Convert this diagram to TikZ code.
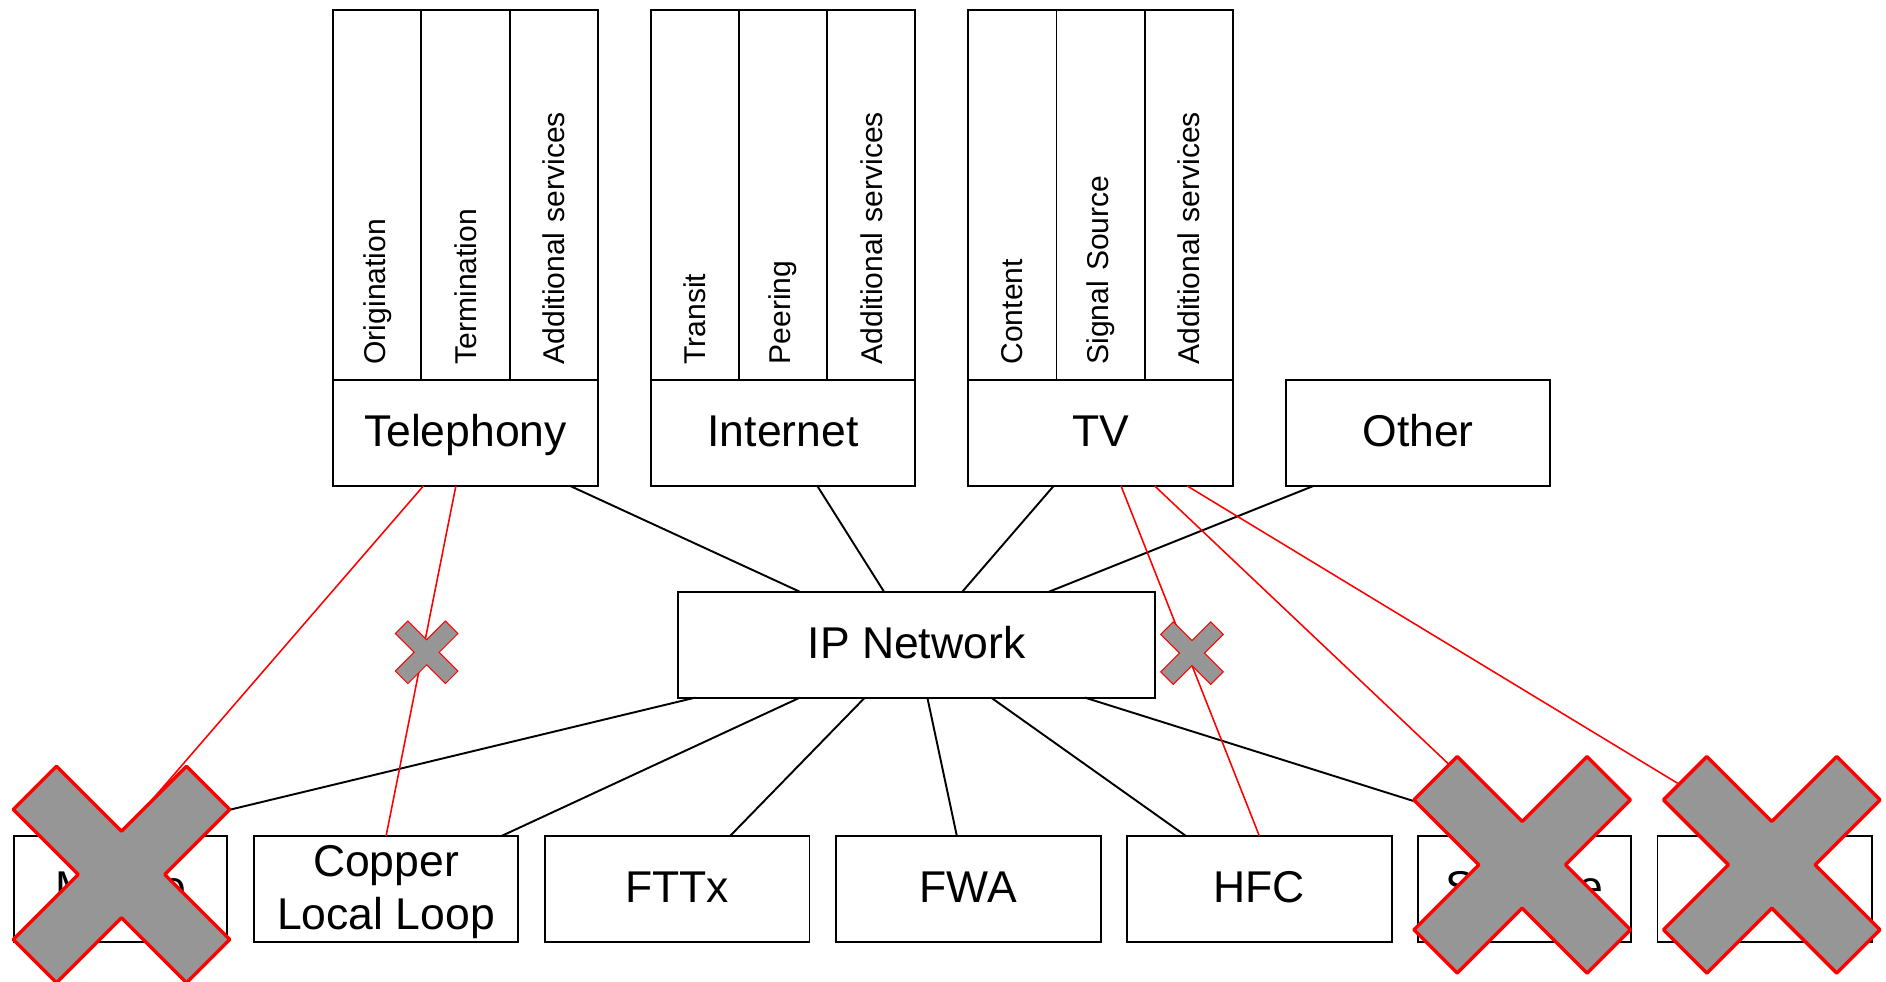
\documentclass[tikz,border=0pt]{standalone}
\usepackage{fontspec}
\setmainfont{Liberation Sans}
\usepackage{tikz}
\usetikzlibrary{positioning}

\definecolor{crossgray}{RGB}{150,150,150}

\tikzstyle{box} = [draw, line width=0.8pt, outer sep=0pt, minimum width=110pt, minimum height=44pt, inner sep=0pt, align=center, font=\fontsize{18.5}{22}\selectfont]
\tikzstyle{service} = [box, text height=15pt, text depth=3.9pt]
\tikzstyle{layer} = [draw, line width=0.8pt, outer sep=0pt, rotate=90, minimum width=154pt, minimum height=36.67pt, inner xsep=6.5pt, inner ysep=0pt, text width=141pt, align=left, font=\fontsize{12.5}{15}\selectfont]
\tikzstyle{conn} = [line width=0.8pt]
\tikzstyle{cutconn} = [line width=0.65pt, red]
\tikzstyle{bigcut} = [fill=crossgray, draw=red, line width=1.4pt, line join=round]
\tikzstyle{smallcut} = [fill=crossgray, draw=red, line width=0.4pt]

% cross mark: centre, half size, style
\newcommand{\nocross}[3]{%
  \draw [#3, shift={(#1)}, scale=#2] (-1,-0.6) -- (-0.4,0) -- (-1,0.6) -- (-0.6,1) -- (0,0.4) -- (0.6,1) -- (1,0.6) -- (0.4,0) -- (1,-0.6) -- (0.6,-1) -- (0,-0.4) -- (-0.6,-1) -- cycle;}

\begin{document}
\begin{tikzpicture}[x=1pt, y=1pt, node distance=22pt]
                \useasboundingbox (0,0) rectangle (784,408);

                % services
                \node (tel) [service] at (193.5,228) {Telephony};
                \node (inet) [service, right=of tel] {Internet};
                \node (tv) [service, right=of inet] {TV};
                \node (other) [service, right=of tv] {Other};

                \node (orig) [layer, anchor=north west] at (tel.north west) {Origination};
                \node (term) [layer, anchor=north west] at (orig.south west) {Termination};
                \node (teladd) [layer, anchor=north west] at (term.south west) {Additional services};

                \node (transit) [layer, anchor=north west] at (inet.north west) {Transit};
                \node (peering) [layer, anchor=north west] at (transit.south west) {Peering};
                \node (inetadd) [layer, anchor=north west] at (peering.south west) {Additional services};

                \node (content) [layer, anchor=north west] at (tv.north west) {Content};
                \node (signal) [layer, anchor=north west] at (content.south west) {Signal Source};
                \node (tvadd) [layer, anchor=north west] at (signal.south west) {Additional services};

                \node (ip) [service, minimum width=198pt] at (381,140) {IP Network};

                % access networks
                \node (mobile) [service, minimum width=88.5pt] at (50.25,38.5) {Mobile};
                \node (copper) [box, text depth=1.5pt, right=11pt of mobile] {Copper\\Local Loop};
                \node (fttx) [service, right=11pt of copper] {FTTx};
                \node (fwa) [service, right=11pt of fttx] {FWA};
                \node (hfc) [service, right=11pt of fwa] {HFC};
                \node (sat) [service, minimum width=88.5pt, right=11pt of hfc] {Satellite};
                \node (rest) [service, minimum width=89pt, right=11pt of sat] {};

                \draw [conn] ([xshift=43.5pt]tel.south) -- ([xshift=-48.5pt]ip.north);
                \draw [conn] ([xshift=14.25pt]inet.south) -- ([xshift=-13.5pt]ip.north);
                \draw [conn] ([xshift=-19.5pt]tv.south) -- ([xshift=19pt]ip.north);
                \draw [conn] ([xshift=-43.5pt]other.south) -- ([xshift=55pt]ip.north);

                \draw [conn] ([xshift=-92pt]ip.south) -- (mobile.north);
                \draw [conn] ([xshift=-48.5pt]ip.south) -- ([xshift=48pt]copper.north);
                \draw [conn] ([xshift=-21.5pt]ip.south) -- ([xshift=22pt]fttx.north);
                \draw [conn] ([xshift=4.5pt]ip.south) -- ([xshift=-4.75pt]fwa.north);
                \draw [conn] ([xshift=31pt]ip.south) -- ([xshift=-30.5pt]hfc.north);
                \draw [conn] ([xshift=70pt]ip.south) -- (sat.north);

                \draw [cutconn] ([xshift=-17.5pt]tel.south) -- (mobile.north);
                \draw [cutconn] ([xshift=-4pt]tel.south) -- (copper.north);
                \draw [cutconn] ([xshift=8.5pt]tv.south) -- (hfc.north);
                \draw [cutconn] ([xshift=22.5pt]tv.south) -- (sat.north);
                \draw [cutconn] ([xshift=36pt]tv.south) -- (rest.north);

                % crosses
                \nocross{177.35,136.85}{13}{smallcut}
                \nocross{495.5,136.5}{13}{smallcut}
                \nocross{50.5,44.5}{45}{bigcut}
                \nocross{632.75,48.5}{45}{bigcut}
                \nocross{736.5,48.5}{45}{bigcut}
            \end{tikzpicture}
\end{document}
